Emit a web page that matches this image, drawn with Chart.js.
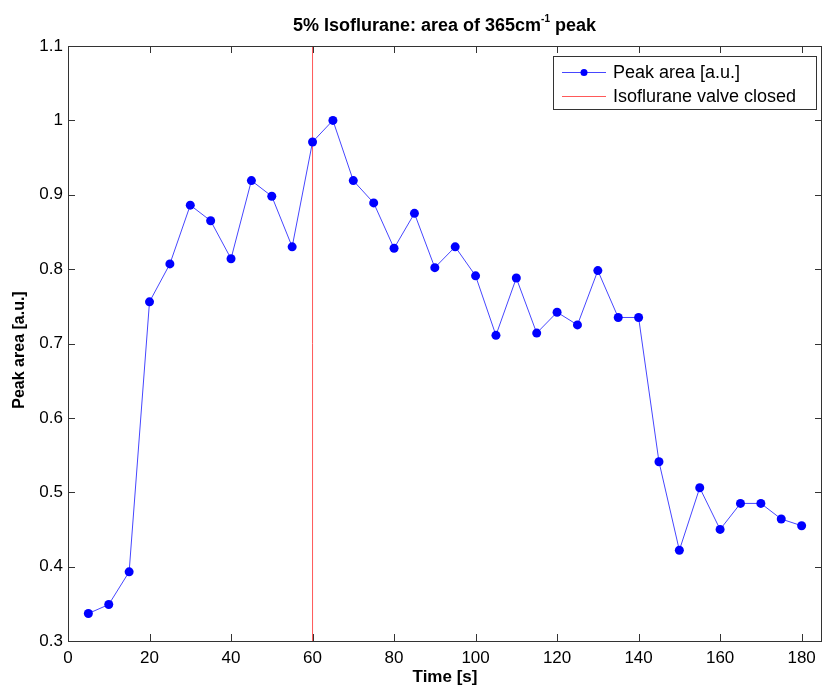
<!DOCTYPE html>
<html>
<head>
<meta charset="utf-8">
<script src="https://cdn.jsdelivr.net/npm/chart.js@4"></script>
<style>
  html, body { margin: 0; padding: 0; background: #fff; }
  #wrap { width: 822px; height: 688px; }
</style>
</head>
<body>
<div id="wrap"><canvas id="peak-chart" width="822" height="688"></canvas></div>
<script>
// Time axis (s) and measured peak area
const times = [5, 10, 15, 20, 25, 30, 35, 40, 45, 50, 55, 60, 65, 70, 75, 80, 85, 90,
  95, 100, 105, 110, 115, 120, 125, 130, 135, 140, 145, 150, 155, 160, 165, 170, 175, 180];
const peakArea = [0.337, 0.349, 0.393, 0.756, 0.807, 0.886, 0.865, 0.814, 0.919, 0.898, 0.830, 0.971,
  1.000, 0.919, 0.889, 0.828, 0.875, 0.802, 0.830, 0.791, 0.711, 0.788, 0.714, 0.742, 0.725, 0.798,
  0.735, 0.735, 0.541, 0.422, 0.506, 0.450, 0.485, 0.485, 0.464, 0.455];

// valve closing marker
const valveTime = 60;
const valveSpan = [0.3, 1.1];

const xTicks = [0, 20, 40, 60, 80, 100, 120, 140, 160, 180];
const yTicks = [0.3, 0.4, 0.5, 0.6, 0.7, 0.8, 0.9, 1.0, 1.1];

const FONT = '"Liberation Sans", Arial, sans-serif';
const BLUE = '#0000ff';
const LINE_BLUE = '#4646ff';
const RED = 'rgba(255, 60, 60, 0.85)';
const AXIS = '#333333';

const matlabFrame = {
  id: 'matlabFrame',
  afterDraw(chart) {
    const { ctx, chartArea: a, scales } = chart;
    const xs = scales.x, ys = scales.y;
    ctx.save();

    // box
    ctx.strokeStyle = AXIS;
    ctx.lineWidth = 1;
    ctx.strokeRect(a.left + 0.5, a.top + 0.5, a.right - a.left - 1, a.bottom - a.top);

    // inward ticks on all four sides
    const tl = 7;
    ctx.beginPath();
    xTicks.forEach(v => {
      const px = Math.round(xs.getPixelForValue(v)) + 0.5;
      ctx.moveTo(px, a.bottom); ctx.lineTo(px, a.bottom - tl);
      ctx.moveTo(px, a.top); ctx.lineTo(px, a.top + tl);
    });
    yTicks.forEach(v => {
      const py = Math.round(ys.getPixelForValue(v)) + 0.5;
      ctx.moveTo(a.left, py); ctx.lineTo(a.left + tl, py);
      ctx.moveTo(a.right, py); ctx.lineTo(a.right - tl, py);
    });
    ctx.stroke();

    // title with superscript
    ctx.fillStyle = '#000';
    ctx.textBaseline = 'alphabetic';
    const big = 'bold 18px ' + FONT, small = 'bold 10px ' + FONT;
    const p1 = '5% Isoflurane: area of 365cm', sup = '-1', p2 = ' peak';
    ctx.font = big;
    const w1 = ctx.measureText(p1).width, w3 = ctx.measureText(p2).width;
    ctx.font = small;
    const w2 = ctx.measureText(sup).width;
    let tx = 444.5 - (w1 + w2 + w3) / 2;
    const ty = 31;
    ctx.font = big; ctx.textAlign = 'left';
    ctx.fillText(p1, tx, ty); tx += w1;
    ctx.font = small; ctx.fillText(sup, tx, ty - 9); tx += w2;
    ctx.font = big; ctx.fillText(p2, tx, ty);

    // y axis title
    ctx.save();
    ctx.translate(19.5, 350);
    ctx.rotate(-Math.PI / 2);
    ctx.font = 'bold 16px ' + FONT;
    ctx.textAlign = 'center';
    ctx.textBaseline = 'middle';
    ctx.fillText('Peak area [a.u.]', 0, 0);
    ctx.restore();

    // legend box
    const lx = 553, ly = 56, lw = 263, lh = 53;
    ctx.fillStyle = '#fff';
    ctx.fillRect(lx, ly, lw, lh);
    ctx.strokeStyle = AXIS;
    ctx.lineWidth = 1;
    ctx.strokeRect(lx + 0.5, ly + 0.5, lw, lh);
    ctx.font = '18px ' + FONT;
    ctx.textAlign = 'left';
    ctx.textBaseline = 'middle';
    chart.data.datasets.forEach((ds, i) => {
      const rowY = ly + 16 + i * 24;
      ctx.strokeStyle = ds.borderColor;
      ctx.beginPath();
      ctx.moveTo(lx + 9, rowY + 0.5); ctx.lineTo(lx + 53, rowY + 0.5);
      ctx.stroke();
      if (ds.pointRadius > 0) {
        ctx.fillStyle = ds.pointBackgroundColor;
        ctx.beginPath();
        ctx.arc(lx + 31, rowY + 0.5, 3.5, 0, Math.PI * 2);
        ctx.fill();
      }
      ctx.fillStyle = '#000';
      ctx.fillText(ds.label, lx + 60, rowY + 1);
    });
    ctx.restore();
  }
};

new Chart(document.getElementById('peak-chart'), {
  type: 'line',
  data: {
    datasets: [
      {
        label: 'Peak area [a.u.]',
        data: times.map((t, i) => ({ x: t, y: peakArea[i] })),
        borderColor: LINE_BLUE,
        borderWidth: 1,
        pointRadius: 4.5,
        pointBackgroundColor: BLUE,
        pointBorderWidth: 0,
        tension: 0
      },
      {
        label: 'Isoflurane valve closed',
        data: valveSpan.map(v => ({ x: valveTime, y: v })),
        borderColor: RED,
        borderWidth: 1,
        pointRadius: 0
      }
    ]
  },
  options: {
    responsive: false,
    animation: false,
    layout: { autoPadding: false, padding: { top: 46, right: 0, left: 0, bottom: 0 } },
    plugins: {
      legend: { display: false },
      title: { display: false },
      tooltip: { enabled: false }
    },
    scales: {
      x: {
        type: 'linear',
        min: 0,
        max: 185,
        afterFit(scale) {
          scale.height = 47;
          scale.paddingLeft = 0;
          scale.paddingRight = 0;
        },
        afterBuildTicks(scale) { scale.ticks = xTicks.map(v => ({ value: v })); },
        grid: { display: false, drawTicks: false },
        border: { display: false },
        ticks: { color: '#000', padding: 7, font: { family: FONT, size: 17 }, maxRotation: 0 },
        title: { display: true, text: 'Time [s]', color: '#000', padding: { top: 0, bottom: 0 },
          font: { family: FONT, size: 17, weight: 'bold' } }
      },
      y: {
        min: 0.3,
        max: 1.1,
        afterFit(scale) {
          scale.width = 68;
          scale.paddingTop = 0;
          scale.paddingBottom = 0;
        },
        afterBuildTicks(scale) { scale.ticks = yTicks.map(v => ({ value: v })); },
        grid: { display: false, drawTicks: false },
        border: { display: false },
        ticks: { color: '#000', padding: 5, font: { family: FONT, size: 17 },
          callback: v => String(+v.toFixed(1)) }
      }
    }
  },
  plugins: [matlabFrame]
});
</script>
</body>
</html>
